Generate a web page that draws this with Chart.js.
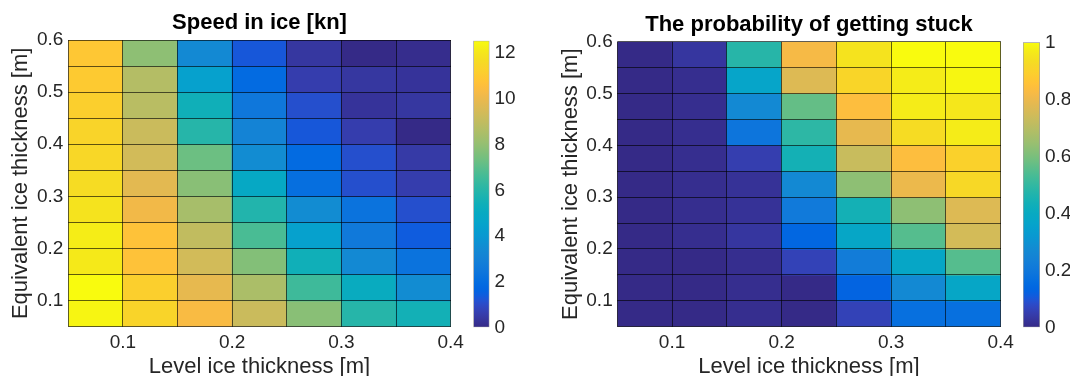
<!DOCTYPE html>
<html><head><meta charset="utf-8">
<script src="https://cdn.jsdelivr.net/npm/chart.js@4.4.1/dist/chart.umd.min.js"></script>
<style>
html,body{margin:0;padding:0;background:#fff;width:1070px;height:376px;overflow:hidden;}
canvas{position:absolute;top:0;}
</style></head><body>
<canvas id="heatSpeed" style="left:0px" width="519" height="376"></canvas>
<canvas id="barSpeed" style="left:460px" width="100" height="376"></canvas>
<canvas id="heatProb" style="left:550px" width="518" height="376"></canvas>
<canvas id="barProb" style="left:1010px" width="60" height="376"></canvas>
<script>
// ---- data ----
const levelIce = [0.075, 0.125, 0.175, 0.225, 0.275, 0.325, 0.375];          // column centres [m]
const equivIce = [0.075, 0.125, 0.175, 0.225, 0.275, 0.325, 0.375, 0.425, 0.475, 0.525, 0.575]; // row centres [m]
const cellSize = 0.05;
const xTicks = [0.1, 0.2, 0.3, 0.4];
const yTicks = [0.1, 0.2, 0.3, 0.4, 0.5, 0.6];
const speedTicks = [0, 2, 4, 6, 8, 10, 12];
const probTicks = [0, 0.2, 0.4, 0.6, 0.8, 1];
const speedRange = [0, 12.55];
const probRange = [0, 1];
// rows from bottom (0.075) to top (0.575)
const speed = [
  [12.4, 11.4, 10.4, 9.2, 7.8, 6.0, 5.5],
  [12.55, 11.2, 9.9, 8.5, 6.5, 5.1, 3.5],
  [12.1, 10.7, 9.4, 7.7, 5.4, 3.4, 2.3],
  [12.2, 10.7, 9.0, 6.7, 4.4, 2.6, 1.4],
  [11.9, 10.2, 8.4, 5.9, 3.5, 2.3, 1.1],
  [11.7, 9.8, 7.8, 4.9, 2.1, 1.1, 0.6],
  [11.5, 9.4, 7.3, 3.5, 1.9, 1.1, 0.5],
  [11.4, 9.2, 6.0, 3.1, 1.3, 0.6, 0.0],
  [11.2, 8.8, 5.4, 2.5, 1.1, 0.3, 0.4],
  [11.0, 8.7, 4.4, 1.9, 0.6, 0.4, 0.3],
  [10.9, 7.9, 3.4, 1.3, 0.4, 0.0, 0.1]
];
const stuck = [
  [0.0, 0.0, 0.01, 0.0, 0.06, 0.17, 0.17],
  [0.0, 0.0, 0.01, 0.0, 0.13, 0.27, 0.38],
  [0.0, 0.0, 0.01, 0.06, 0.22, 0.38, 0.55],
  [0.0, 0.01, 0.03, 0.14, 0.38, 0.55, 0.75],
  [0.0, 0.01, 0.02, 0.21, 0.44, 0.63, 0.77],
  [0.0, 0.01, 0.02, 0.27, 0.63, 0.80, 0.92],
  [0.0, 0.01, 0.05, 0.44, 0.73, 0.84, 0.90],
  [0.0, 0.01, 0.19, 0.49, 0.79, 0.93, 0.97],
  [0.0, 0.01, 0.27, 0.57, 0.84, 0.97, 0.96],
  [0.0, 0.01, 0.37, 0.77, 0.91, 0.97, 0.99],
  [0.0, 0.03, 0.48, 0.82, 0.95, 1.0, 1.0]
];

// ---- parula colormap (64) ----
const PARULA = [
[0.2081,0.1663,0.5292],[0.2116,0.1898,0.5777],[0.2123,0.2138,0.6270],[0.2081,0.2386,0.6771],
[0.1959,0.2645,0.7279],[0.1707,0.2919,0.7792],[0.1253,0.3242,0.8303],[0.0591,0.3598,0.8683],
[0.0117,0.3875,0.8820],[0.0060,0.4086,0.8828],[0.0165,0.4266,0.8786],[0.0329,0.4430,0.8720],
[0.0498,0.4586,0.8641],[0.0629,0.4737,0.8554],[0.0723,0.4887,0.8467],[0.0779,0.5040,0.8384],
[0.0793,0.5200,0.8312],[0.0749,0.5375,0.8263],[0.0641,0.5570,0.8240],[0.0488,0.5772,0.8228],
[0.0343,0.5966,0.8199],[0.0265,0.6137,0.8135],[0.0239,0.6287,0.8038],[0.0231,0.6418,0.7913],
[0.0228,0.6535,0.7768],[0.0267,0.6642,0.7607],[0.0384,0.6743,0.7436],[0.0590,0.6838,0.7254],
[0.0843,0.6928,0.7062],[0.1133,0.7015,0.6859],[0.1453,0.7098,0.6646],[0.1801,0.7177,0.6424],
[0.2178,0.7250,0.6193],[0.2586,0.7317,0.5954],[0.3022,0.7376,0.5712],[0.3482,0.7424,0.5473],
[0.3953,0.7459,0.5244],[0.4420,0.7481,0.5033],[0.4871,0.7491,0.4840],[0.5300,0.7491,0.4661],
[0.5709,0.7485,0.4494],[0.6099,0.7473,0.4337],[0.6473,0.7456,0.4188],[0.6834,0.7435,0.4044],
[0.7184,0.7411,0.3905],[0.7525,0.7384,0.3768],[0.7858,0.7356,0.3633],[0.8185,0.7327,0.3498],
[0.8507,0.7299,0.3360],[0.8824,0.7274,0.3217],[0.9139,0.7258,0.3063],[0.9450,0.7261,0.2886],
[0.9739,0.7314,0.2666],[0.9938,0.7455,0.2403],[0.9990,0.7653,0.2164],[0.9955,0.7861,0.1967],
[0.9880,0.8066,0.1794],[0.9789,0.8271,0.1633],[0.9697,0.8481,0.1475],[0.9626,0.8705,0.1309],
[0.9589,0.8949,0.1132],[0.9598,0.9218,0.0948],[0.9661,0.9514,0.0755],[0.9763,0.9831,0.0538]
];
function parula(t) {
  t = Math.max(0, Math.min(1, t));
  const f = t * (PARULA.length - 1), i = Math.floor(f), k = f - i;
  const a = PARULA[i], b = PARULA[Math.min(i + 1, PARULA.length - 1)];
  const c = a.map((v, n) => Math.round(255 * (v + (b[n] - v) * k)));
  return `rgb(${c[0]},${c[1]},${c[2]})`;
}

const FONT = '"Liberation Sans", Arial, Helvetica, sans-serif';
const TXT = '#262626';
const EDGE = 'rgba(0,0,0,0.62)';
const xEdges = [levelIce[0] - cellSize / 2].concat(levelIce.map(v => v + cellSize / 2));
const yEdges = [equivIce[0] - cellSize / 2].concat(equivIce.map(v => v + cellSize / 2));

function edgeScale(pos, min, max, edges) {
  return {type: 'linear', position: pos, min, max, offset: false,
    ticks: {display: false}, border: {display: false},
    grid: {display: true, offset: false, drawTicks: false, color: EDGE, lineWidth: 1, z: 1},
    afterBuildTicks: s => { s.ticks = edges.map(v => ({value: v})); },
    afterFit: s => { if (s.isHorizontal()) s.height = 0; else s.width = 0; }};
}

function heatmap(id, values, range, title, o) {
  const data = [], colors = [];
  equivIce.forEach((yc, j) => levelIce.forEach((xc, i) => {
    data.push({x: xc, y: [yc - cellSize / 2, yc + cellSize / 2]});
    colors.push(parula((values[j][i] - range[0]) / (range[1] - range[0])));
  }));
  return new Chart(document.getElementById(id), {
    type: 'bar',
    data: {datasets: [{data, backgroundColor: colors, borderWidth: 0,
      barPercentage: 1, categoryPercentage: 1, inflateAmount: 0.5}]},
    options: {
      responsive: false, animation: false,
      layout: {padding: {left: 0, right: o.padRight, top: 0, bottom: 0}},
      plugins: {
        legend: {display: false}, tooltip: {enabled: false},
        title: {display: true, fullSize: false, text: title, color: '#000',
          font: {family: FONT, size: 22, weight: 'bold', lineHeight: 1.2},
          padding: {top: o.titleTop, bottom: o.titleBottom}}
      },
      scales: {
        x: {type: 'linear', min: 0.05, max: 0.4, offset: false,
          grid: {display: false, offset: false, drawTicks: false}, border: {display: false},
          afterBuildTicks: s => { s.ticks = xTicks.map(v => ({value: v})); },
          afterFit: s => { s.height = 376 - o.plotBottom; },
          ticks: {padding: 5, color: TXT, font: {family: FONT, size: 19}, callback: v => v.toFixed(1)},
          title: {display: true, text: 'Level ice thickness [m]', color: TXT,
            font: {family: FONT, size: 22, lineHeight: 1}, padding: {top: 0, bottom: -1.5}}},
        y: {type: 'linear', min: 0.05, max: 0.6,
          grid: {display: false, drawTicks: false}, border: {display: false},
          afterBuildTicks: s => { s.ticks = yTicks.map(v => ({value: v})); },
          afterFit: s => { s.width = o.yWidth; },
          ticks: {padding: o.yPad, color: TXT, font: {family: FONT, size: 19}, callback: v => v.toFixed(1)},
          title: {display: true, text: 'Equivalent ice thickness [m]', color: TXT,
            font: {family: FONT, size: 22, lineHeight: 1}, padding: {top: o.yTitlePad, bottom: 0}}},
        xEdge: edgeScale('top', 0.05, 0.4, xEdges),
        yEdge: edgeScale('right', 0.05, 0.6, yEdges)
      }
    }
  });
}

function colorbar(id, range, ticks, fmt, o) {
  return new Chart(document.getElementById(id), {
    type: 'bar',
    data: {labels: [''], datasets: [{data: [range],
      backgroundColor: ctx => {
        const area = ctx.chart.chartArea;
        if (!area) return '#888';
        const g = ctx.chart.ctx.createLinearGradient(0, area.bottom, 0, area.top);
        PARULA.forEach((c, i) => g.addColorStop(i / (PARULA.length - 1), parula(i / (PARULA.length - 1))));
        return g;
      },
      borderColor: '#a0a0a0', borderWidth: 1, borderSkipped: false,
      barPercentage: 1, categoryPercentage: 1}]},
    options: {
      responsive: false, animation: false,
      layout: {padding: {left: o.padLeft, right: 0, top: o.top, bottom: 376 - o.bottom}},
      plugins: {legend: {display: false}, tooltip: {enabled: false}, title: {display: false}},
      scales: {
        x: {display: false},
        y: {position: 'right', min: range[0], max: range[1],
          grid: {display: false, drawTicks: false}, border: {display: false},
          afterBuildTicks: s => { s.ticks = ticks.map(v => ({value: v})); },
          afterFit: s => { s.width = o.axisWidth; },
          ticks: {padding: 5, color: TXT, font: {family: FONT, size: 19}, callback: fmt}}
      }
    }
  });
}

heatmap('heatSpeed', speed, speedRange, 'Speed in ice [kn]',
  {padRight: 68.3, yWidth: 68.3, yPad: 5, yTitlePad: 10.3, titleTop: 9.5, titleBottom: 4.1, plotBottom: 326.7});
heatmap('heatProb', stuck, probRange, 'The probability of getting stuck',
  {padRight: 67.3, yWidth: 67.3, yPad: 4.6, yTitlePad: 9.5, titleTop: 11.5, titleBottom: 3.8, plotBottom: 326.7});
colorbar('barSpeed', speedRange, speedTicks, v => String(v),
  {padLeft: 13.3, axisWidth: 70.5, top: 40.7, bottom: 327.3});
colorbar('barProb', probRange, probTicks, v => String(v),
  {padLeft: 13, axisWidth: 30, top: 42.3, bottom: 327.3});
</script>
</body></html>
